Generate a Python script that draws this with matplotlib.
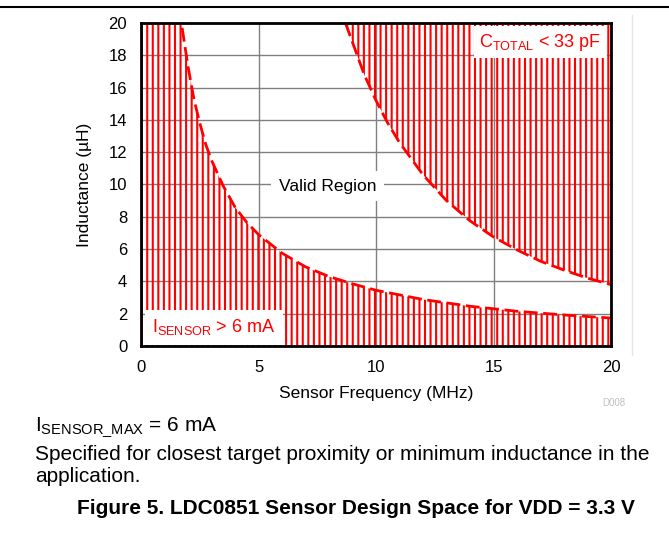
import numpy as np
import matplotlib.pyplot as plt
from matplotlib.lines import Line2D

plt.rcParams['font.family'] = ['Liberation Sans', 'DejaVu Sans']
plt.rcParams['mathtext.fontset'] = 'custom'
plt.rcParams['mathtext.rm'] = 'Liberation Sans'
plt.rcParams['mathtext.it'] = 'Liberation Sans:italic'
plt.rcParams['hatch.linewidth'] = 1.5

## The Data ..
# lower boundary: I_SENSOR > 6 mA
f_low = [1.75, 2.0, 2.25, 2.5, 2.75, 3.0, 3.5, 4.0, 4.5, 5.0, 6.0, 7.0, 8.0, 9.0,
         10.0, 12.0, 14.0, 16.0, 18.0, 20.0]
L_low = [19.7, 17.3, 15.3, 13.8, 12.5, 11.5, 9.9, 8.6, 7.65, 6.9, 5.75, 4.9, 4.3, 3.85,
         3.45, 2.88, 2.46, 2.15, 1.92, 1.73]
# upper boundary: C_TOTAL < 33 pF
f_up = [8.7, 9.0, 9.5, 10.0, 10.5, 11.0, 12.0, 13.0, 14.0, 15.0, 16.0, 17.0, 18.0, 19.0, 20.0]
L_up = [20.0, 18.8, 16.8, 15.2, 13.8, 12.6, 10.6, 9.0, 7.75, 6.75, 5.95, 5.25, 4.7, 4.2, 3.8]
x_ticks = [0, 5, 10, 15, 20]
y_ticks = [0, 2, 4, 6, 8, 10, 12, 14, 16, 18, 20]

fig = plt.figure(figsize=(6.69, 5.4), dpi=100)
ax = fig.add_axes([0.2108, 0.3593, 0.7025, 0.5981])

# hatched forbidden regions
ax.fill_between([0, f_low[0]], 0, 20, facecolor='none', edgecolor='red', hatch='|||', linewidth=0)
ax.fill_between(f_low, 0, L_low, facecolor='none', edgecolor='red', hatch='|||', linewidth=0)
ax.fill_between(f_up, L_up, 20, facecolor='none', edgecolor='red', hatch='|||', linewidth=0)
ax.plot(f_low, L_low, color='red', lw=2, dashes=(5, 2))
ax.plot(f_up, L_up, color='red', lw=2, dashes=(5, 2))

ax.set_xlim(0, 20)
ax.set_ylim(0, 20)
ax.set_xticks(x_ticks)
ax.set_yticks(y_ticks)
ax.tick_params(length=0, labelsize=12, pad=10)
ax.grid(color='#808080', lw=1)
ax.set_axisbelow(True)
for s in ax.spines.values():
    s.set_linewidth(2)
    s.set_color('black')

ax.set_xlabel('Sensor Frequency (MHz)', fontsize=12.5, labelpad=8)
ax.set_ylabel('Inductance (µH)', fontsize=12.5, labelpad=12)

# region labels
ax.text(7.95, 9.9, 'Valid Region', fontsize=12.5, ha='center', va='center',
        bbox=dict(boxstyle='square,pad=0.45', fc='white', ec='none'))
ax.text(16.98, 18.8, r'C$_{\rm TOTAL}$ < 33 pF', fontsize=13, color='red', ha='center', va='center',
        bbox=dict(boxstyle='square,pad=0.3', fc='white', ec='none'))
ax.text(3.1, 1.15, r'I$_{\rm SENSOR}$ > 6 mA', fontsize=13, color='red', ha='center', va='center',
        bbox=dict(boxstyle='square,pad=0.4', fc='white', ec='none'))

fig.text(614 / 669, 1 - 403 / 540, 'D008', fontsize=7, color='#c0c0c0', ha='center', va='center')

# page text below the chart
fig.text(35 / 669, 1 - 427 / 540, r'I$_{\rm SENSOR\_MAX}$ = 6 mA', fontsize=15, va='center')
fig.text(35 / 669, 1 - 455 / 540, 'Specified for closest target proximity or minimum inductance in the',
         fontsize=15, va='center')
fig.text(35 / 669, 1 - 477 / 540, 'application.', fontsize=15, va='center')
fig.text(356 / 669, 1 - 509 / 540, 'Figure 5. LDC0851 Sensor Design Space for VDD = 3.3 V',
         fontsize=15, fontweight='bold', ha='center', va='center')

# page rules
fig.add_artist(Line2D([0, 1], [1 - 7 / 540] * 2, color='black', lw=1.5))
fig.add_artist(Line2D([632 / 669] * 2, [1 - 15 / 540, 1 - 355 / 540], color='#e6e6e6', lw=1))

fig.savefig('out.png', dpi=100)
